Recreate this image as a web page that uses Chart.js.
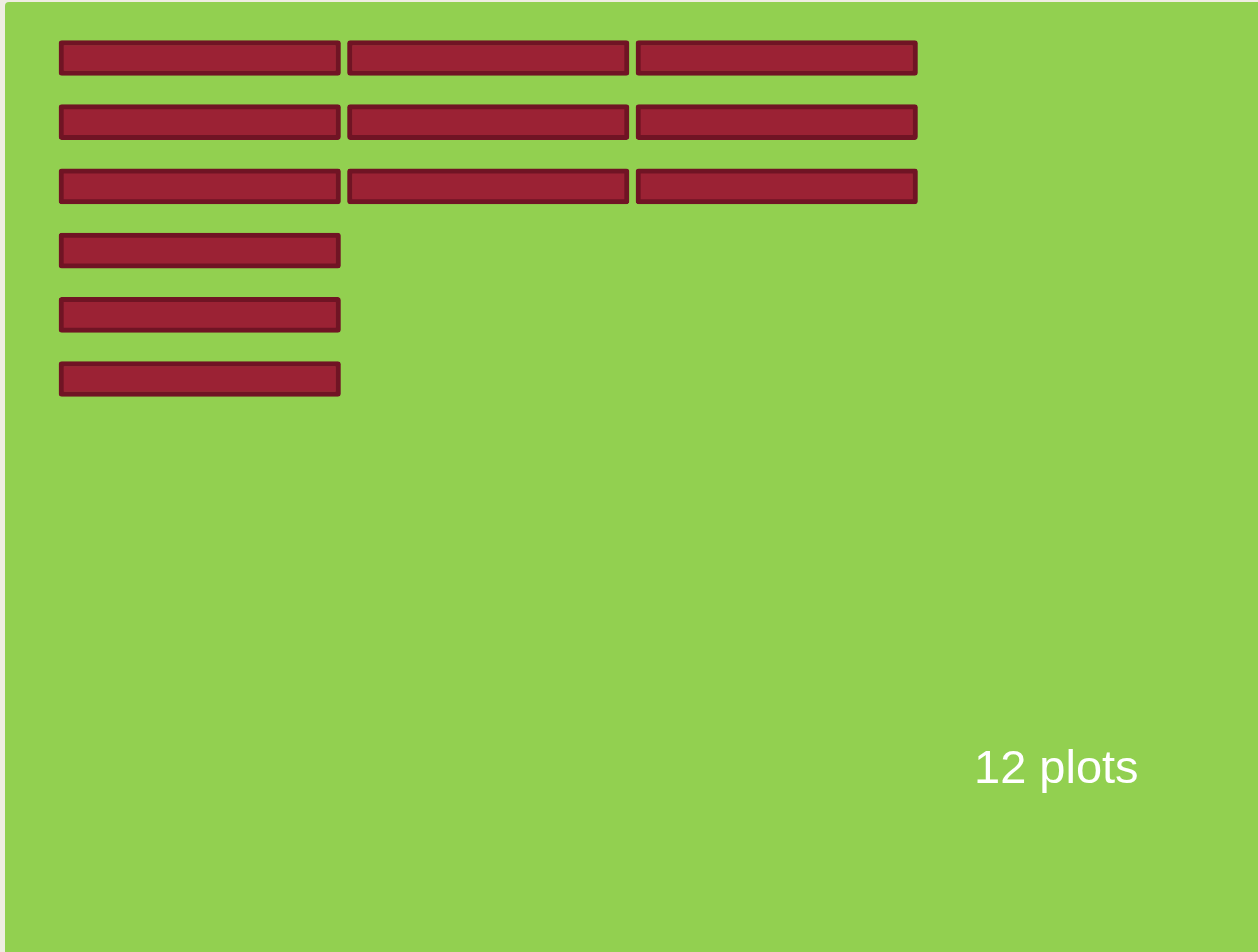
<!DOCTYPE html>
<html>
<head>
<meta charset="utf-8">
<script src="https://cdn.jsdelivr.net/npm/chart.js@4/dist/chart.umd.min.js"></script>
<style>
  html, body { margin: 0; padding: 0; background: #efede2; width: 1258px; height: 952px; overflow: hidden; }
  #wrap { position: absolute; left: 5px; top: 2px; width: 1253px; height: 950px; background: #92d050; border-top-left-radius: 4px; }
  #c { display: block; }
  #caption { position: absolute; left: 974px; top: 743px; font-family: "Liberation Sans", Arial, sans-serif; font-size: 47px; line-height: 47px; color: #ffffff; white-space: nowrap; }
</style>
</head>
<body>
<div id="wrap"><canvas id="c" width="1253" height="950"></canvas></div>
<div id="caption">12 plots</div>
<script>
// Data: grid of plot tiles, number of tiles in each row
const rowLabels = ['Row 1', 'Row 2', 'Row 3', 'Row 4', 'Row 5', 'Row 6'];
const tilesPerRow = [3, 3, 3, 1, 1, 1];
const columnLabels = ['Column 1', 'Column 2', 'Column 3'];
const gridColumns = 4;
const captionText = '12 plots';
document.getElementById('caption').textContent = captionText;

const GAP = 0.0121;
const datasets = columnLabels.map((name, c) => ({
  label: name,
  data: tilesPerRow.map(n => (n > c ? [c + GAP, c + 1 - GAP] : null)),
  backgroundColor: '#9b2234',
  borderColor: '#701424',
  borderWidth: 5,
  borderSkipped: false,
  borderRadius: 3,
  barThickness: 35,
  grouped: false
}));

new Chart(document.getElementById('c'), {
  type: 'bar',
  data: { labels: rowLabels, datasets },
  options: {
    indexAxis: 'y',
    responsive: false,
    animation: false,
    devicePixelRatio: 1,
    layout: { padding: { left: 50.5, right: 48.5, top: 23.9, bottom: 540.9 } },
    plugins: { legend: { display: false }, tooltip: { enabled: false }, title: { display: false } },
    scales: {
      x: { type: 'linear', min: 0, max: gridColumns, display: false },
      y: { type: 'category', display: false, offset: true }
    }
  }
});
</script>
</body>
</html>
